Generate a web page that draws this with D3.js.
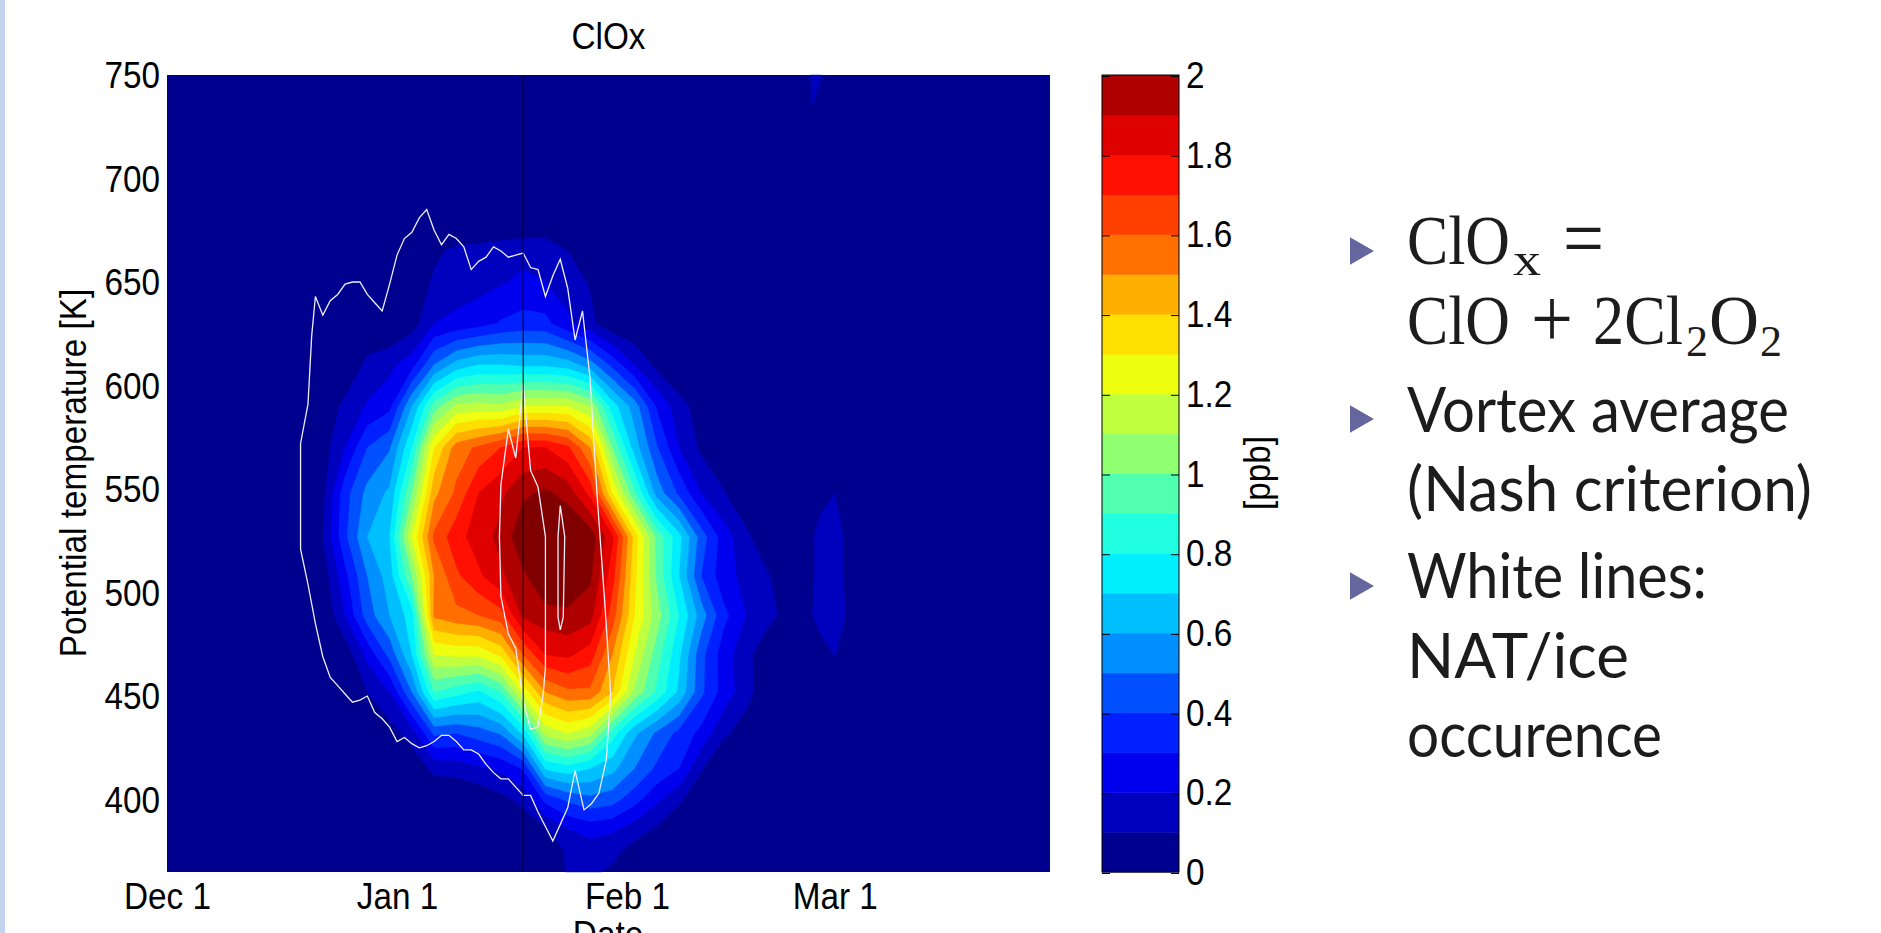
<!DOCTYPE html>
<html lang="en">
<head>
    <meta charset="UTF-8">
    <title>ClOx</title>
    <script src="https://d3js.org/d3.v7.min.js"></script>
    <style>
        html, body { margin: 0; padding: 0; background: #fff; overflow: hidden; }
        svg { display: block; }
        text { font-family: "Liberation Sans", Arial, sans-serif; fill: #000; }
        .axis text { font-size: 36px; }
        .slide { font-family: Lato, "Open Sans", sans-serif; font-size: 61px; fill: #1c1c1c; }
        .math { font-family: "Liberation Serif", serif; font-size: 62px; fill: #1c1c1c; }
    </style>
</head>
<body>
    <svg id="chart" width="1881" height="933"></svg>

    <script>
        // days since Dec 1 (columns of the field)
        const days = [0, 18, 21, 24, 27, 30, 33, 36, 39, 42, 45, 48, 51, 54, 57, 60, 63, 66, 69, 72, 75, 78, 81, 84, 86, 87, 88, 90, 92, 94, 119];
        // potential temperature (rows of the field), top to bottom
        const thetas = [750, 735, 720, 680, 665, 650, 630, 610, 590, 570, 548, 527, 508, 489, 470, 452, 432, 415, 400, 385, 375, 365];

        // ClOx [ppb]
        const clox = [
            [0, 0, 0, 0, 0, 0, 0, 0, 0, 0, 0, 0, 0, 0, 0, 0, 0, 0, 0, 0, 0, 0, 0, 0, 0, .14, .11, 0, 0, 0, 0],
            [0, 0, 0, 0, 0, 0, 0, 0, 0, 0, 0, 0, 0, 0, 0, 0, 0, 0, 0, 0, 0, 0, 0, 0, 0, .1, .07, 0, 0, 0, 0],
            [0, 0, 0, 0, 0, 0, 0, 0, 0, 0, 0, 0, 0, 0, 0, 0, 0, 0, 0, 0, 0, 0, 0, 0, 0, 0, 0, 0, 0, 0, 0],
            [0, 0, 0, 0, 0, 0, 0, 0, 0, 0, 0, 0, 0, 0, 0, 0, 0, 0, 0, 0, 0, 0, 0, 0, 0, 0, 0, 0, 0, 0, 0],
            [0, 0, 0, 0, 0, 0, 0, .08, .12, .13, .15, .17, .17, .1, .05, 0, 0, 0, 0, 0, 0, 0, 0, 0, 0, 0, 0, 0, 0, 0, 0],
            [0, 0, 0, 0, 0, 0, .03, .115, .14, .16, .19, .22, .2, .15, .09, 0, 0, 0, 0, 0, 0, 0, 0, 0, 0, 0, 0, 0, 0, 0, 0],
            [0, 0, 0, 0, 0, 0, .05, .2, .23, .26, .31, .34, .33, .22, .13, .02, 0, 0, 0, 0, 0, 0, 0, 0, 0, 0, 0, 0, 0, 0, 0],
            [0, 0, 0, 0, .13, .17, .26, .5, .64, .7, .7, .68, .68, .65, .55, .37, .2, .07, 0, 0, 0, 0, 0, 0, 0, 0, 0, 0, 0, 0, 0],
            [0, 0, .02, .13, .21, .27, .6, .95, 1.12, 1.14, 1.12, 1.2, 1.2, 1.2, 1.1, .75, .55, .29, .14, .05, 0, 0, 0, 0, 0, 0, 0, 0, 0, 0, 0],
            [0, 0, .05, .2, .4, .49, .8, 1.3, 1.55, 1.62, 1.7, 1.8, 1.8, 1.72, 1.5, 1, .65, .41, .2, .08, 0, 0, 0, 0, 0, 0, 0, 0, 0, 0, 0],
            [0, 0, .07, .36, .53, .62, 1, 1.47, 1.62, 1.8, 1.88, 1.98, 2.02, 1.96, 1.77, 1.3, .92, .56, .38, .2, .11, 0, 0, 0, 0, 0, .07, .1, 0, 0, 0],
            [0, 0, .1, .38, .6, .7, 1.2, 1.62, 1.76, 1.85, 1.93, 2.08, 2.12, 2.12, 2.06, 1.82, 1.36, .97, .73, .45, .25, .13, 0, 0, 0, .09, .13, .14, .07, 0, 0],
            [0, 0, .04, .27, .5, .65, 1, 1.5, 1.68, 1.78, 1.88, 1.98, 2.1, 2.08, 2.02, 1.74, 1.33, .98, .7, .4, .24, .17, .11, 0, 0, .09, .13, .14, .07, 0, 0],
            [0, 0, 0, .2, .45, .6, .75, 1.52, 1.57, 1.6, 1.66, 1.92, 1.96, 1.98, 1.94, 1.65, 1.3, 1.05, .8, .55, .33, .2, .13, .06, 0, .1, .14, .15, .08, 0, 0],
            [0, 0, 0, .03, .23, .43, .7, 1.2, 1.22, 1.22, 1.32, 1.6, 1.8, 1.82, 1.75, 1.5, 1.2, .95, .72, .43, .25, .13, .03, 0, 0, 0, .05, .105, .03, 0, 0],
            [0, 0, 0, 0, .1, .2, .5, .9, .84, .78, .9, 1.23, 1.5, 1.58, 1.58, 1.4, 1.08, .88, .68, .42, .26, .14, .03, 0, 0, 0, 0, 0, 0, 0, 0],
            [0, 0, 0, 0, 0, .05, .15, .42, .4, .45, .51, .72, 1.13, 1.2, 1.13, .85, .62, .48, .37, .27, .12, .05, 0, 0, 0, 0, 0, 0, 0, 0, 0],
            [0, 0, 0, 0, 0, 0, .02, .13, .14, .18, .22, .31, .71, .76, .7, .63, .5, .38, .3, .11, 0, 0, 0, 0, 0, 0, 0, 0, 0, 0, 0],
            [0, 0, 0, 0, 0, 0, 0, 0, 0, .02, .07, .13, .33, .42, .47, .44, .34, .22, .12, .02, 0, 0, 0, 0, 0, 0, 0, 0, 0, 0, 0],
            [0, 0, 0, 0, 0, 0, 0, 0, 0, 0, 0, .02, .08, .19, .23, .21, .14, .08, 0, 0, 0, 0, 0, 0, 0, 0, 0, 0, 0, 0, 0],
            [0, 0, 0, 0, 0, 0, 0, 0, 0, 0, 0, 0, 0, .12, .15, .13, .06, 0, 0, 0, 0, 0, 0, 0, 0, 0, 0, 0, 0, 0, 0],
            [0, 0, 0, 0, 0, 0, 0, 0, 0, 0, 0, 0, 0, .11, .12, .08, 0, 0, 0, 0, 0, 0, 0, 0, 0, 0, 0, 0, 0, 0, 0]
        ];

        // lower edge of each colour band
        const levels = [0, .1, .2, .3, .4, .5, .6, .7, .8, .9, 1, 1.1, 1.2, 1.3, 1.4, 1.5, 1.6, 1.7, 1.8, 1.9, 2];
        const bandColors = ["#00008f", "#0000bf", "#0000ef", "#0020ff", "#0050ff", "#0090ff", "#00bfff", "#00efff", "#20ffdf", "#50ffaf",
            "#90ff70", "#bfff40", "#efff10", "#ffdf00", "#ffaf00", "#ff7000", "#ff4000", "#ff1000", "#df0000", "#af0000", "#800000"];

        // NAT/ice occurrence lines as [day, theta]
        const outerLine = [[18, 527], [18, 570], [18, 572], [19, 591], [19.5, 624], [20, 643], [21, 634], [22, 641], [23, 644], [24, 649], [25, 650], [26, 650], [27, 644], [28, 640], [29, 636], [30, 649], [31, 663], [32, 671], [33, 674], [34, 681], [35, 685], [36, 675], [37, 668], [38, 673], [39, 671], [40, 667], [41, 656], [42, 660], [43, 662], [44, 667], [45, 665], [46, 662], [47, 663], [48, 664], [49, 657], [50, 656], [51, 643], [52, 653], [53, 661], [54, 647], [55, 622], [56, 636], [57, 604], [58, 545], [59, 495], [59.8, 451], [59.2, 419], [58.2, 403], [57.2, 398], [56.2, 395], [55, 414], [54, 396], [53, 388], [52, 380], [51, 387], [50, 394], [49, 402], [48, 402], [47, 406], [46, 410], [45, 410], [44, 413], [43, 417], [42, 422], [41, 424], [40, 424], [39, 428], [38, 431], [37, 431], [36, 428], [35, 426], [34, 425], [33, 427], [32, 430], [31, 428], [30, 435], [29, 439], [28, 442], [27, 450], [26, 448], [25, 447], [24, 451], [23, 455], [22, 459], [21, 469], [20, 485], [19, 504], [18, 521], [18, 527]];
        const innerLine = [[45, 552], [46, 579], [47, 565], [48, 601], [49, 559], [50, 551], [51, 527], [51, 464], [50.7, 451], [50, 435], [49, 434], [48, 448], [47, 473], [46, 480], [45, 498], [44.8, 527], [45, 552]];
        const coreLine = [[53, 542], [53.6, 527], [53.4, 488], [53, 482], [52.7, 488], [52.7, 527], [53, 542]];
        const markerDay = 48;

        const thetaTicks = [400, 450, 500, 550, 600, 650, 700, 750];
        const dateTicks = [0, 31, 62, 90];
        const dateLabels = ["Dec 1", "Jan 1", "Feb 1", "Mar 1"];
        const colorTicks = [0, .2, .4, .6, .8, 1, 1.2, 1.4, 1.6, 1.8, 2];

        const svg = d3.select("#chart");

        // slide edge
        svg.append("rect").attr("x", 0).attr("y", 0).attr("width", 5).attr("height", 933).attr("fill", "#c3d2ef");

        const x = d3.scaleLinear().domain([0, 119]).range([167, 1050]);
        const y = d3.scaleLinear().domain([365, 750]).range([872, 75]);

        // grid index -> data, the grid is not evenly spaced
        const dayOf = d3.scaleLinear().domain(d3.range(days.length)).range(days).clamp(true);
        const thetaOf = d3.scaleLinear().domain(d3.range(thetas.length)).range(thetas).clamp(true);

        svg.append("rect")
            .attr("x", x(0)).attr("y", y(750))
            .attr("width", x(119) - x(0)).attr("height", y(365) - y(750))
            .attr("fill", bandColors[0]);

        const contours = d3.contours()
            .size([days.length, thetas.length])
            .thresholds(levels.slice(1))(clox.flat());

        const path = d3.geoPath(d3.geoTransform({
            point(px, py) {
                this.stream.point(x(dayOf(px - .5)), y(thetaOf(py - .5)));
            }
        }));

        svg.append("g").selectAll("path")
            .data(contours)
            .enter()
            .append("path")
            .attr("d", path)
            .attr("fill", (d, i) => bandColors[i + 1])
            .attr("stroke", (d, i) => bandColors[i + 1])
            .attr("stroke-width", .4);

        // white lines
        const line = d3.line().x(d => x(d[0])).y(d => y(d[1]));
        svg.append("g").selectAll("path")
            .data([outerLine, innerLine, coreLine])
            .enter()
            .append("path")
            .attr("d", line)
            .attr("fill", "none")
            .attr("stroke", "#eeeef8")
            .attr("stroke-width", 1.3);

        svg.append("line")
            .attr("x1", x(markerDay)).attr("x2", x(markerDay))
            .attr("y1", y(750)).attr("y2", y(365))
            .attr("stroke", "#000").attr("stroke-width", 1);

        // the original labels are a little narrow for their height
        function squeeze(sel) {
            sel.each(function() {
                this.setAttribute("textLength", this.getComputedTextLength() * .925);
                this.setAttribute("lengthAdjust", "spacingAndGlyphs");
            });
        }

        // axes
        const yAxis = svg.append("g").attr("class", "axis")
            .attr("transform", `translate(${x(0)},1)`)
            .call(d3.axisLeft(y).tickValues(thetaTicks).tickSize(0).tickPadding(7));
        yAxis.select(".domain").remove();

        const xAxis = svg.append("g").attr("class", "axis")
            .attr("transform", `translate(0,${y(365)})`)
            .call(d3.axisBottom(x).tickValues(dateTicks).tickFormat((d, i) => dateLabels[i]).tickSize(0).tickPadding(11));
        xAxis.select(".domain").remove();

        const labels = svg.append("g").attr("class", "axis");
        labels.append("text").attr("x", 608.5).attr("y", 49).attr("text-anchor", "middle").text("ClOx");
        labels.append("text").attr("x", 608).attr("y", 947).attr("text-anchor", "middle").text("Date");
        labels.append("text")
            .attr("transform", "translate(86,473) rotate(-90)")
            .attr("text-anchor", "middle")
            .text("Potential temperature [K]");

        // colour bar
        const cb = d3.scaleLinear().domain([0, 2]).range([872, 75]);
        svg.append("g").selectAll("rect")
            .data(levels.slice(0, -1))
            .enter()
            .append("rect")
            .attr("x", 1102)
            .attr("width", 77)
            .attr("y", d => cb(d + .1))
            .attr("height", d => cb(d) - cb(d + .1) + .5)
            .attr("fill", (d, i) => bandColors[i]);
        svg.append("rect").attr("x", 1102).attr("y", 75).attr("width", 77).attr("height", 797)
            .attr("fill", "none").attr("stroke", "#000").attr("stroke-width", 1);

        const cbRight = svg.append("g").attr("class", "axis")
            .attr("transform", "translate(1179,1)")
            .call(d3.axisRight(cb).tickValues(colorTicks).tickFormat(d3.format("")).tickSizeInner(-8).tickSizeOuter(0).tickPadding(16));
        cbRight.select(".domain").remove();
        cbRight.selectAll("text").attr("x", 7);
        const cbLeft = svg.append("g")
            .attr("transform", "translate(1102,1)")
            .call(d3.axisLeft(cb).tickValues(colorTicks).tickFormat("").tickSizeInner(-8).tickSizeOuter(0));
        cbLeft.select(".domain").remove();

        labels.append("text")
            .attr("transform", "translate(1270,473) rotate(-90)")
            .attr("text-anchor", "middle")
            .text("[ppb]");

        squeeze(svg.selectAll(".axis text"));

        // slide text
        const bulletY = [251, 419, 586];
        const bullet = d3.symbol().type(d3.symbolTriangle).size(330);
        svg.append("g").selectAll("path")
            .data(bulletY)
            .enter()
            .append("path")
            .attr("d", bullet)
            .attr("transform", d => `translate(1358,${d}) rotate(90)`)
            .attr("fill", "#66669e");

        const slideLines = [
            ["Vortex average", 431.5, 382],
            ["(Nash criterion)", 511, 405],
            ["White lines:", 598, 300],
            ["NAT/ice", 678, 222],
            ["occurence", 757, 255]
        ];
        svg.append("g").selectAll("text")
            .data(slideLines)
            .enter()
            .append("text")
            .attr("class", "slide")
            .attr("x", 1407)
            .attr("y", d => d[1])
            .attr("textLength", d => d[2])
            .attr("lengthAdjust", "spacingAndGlyphs")
            .text(d => d[0]);

        function math(txt, px, py, size, len) {
            svg.append("text").attr("class", "math").attr("x", px).attr("y", py)
                .style("font-size", size + "px")
                .attr("textLength", len).attr("lengthAdjust", "spacingAndGlyphs")
                .text(txt);
        }
        math("ClO", 1407, 264, 70, 103);
        math("x", 1513, 275, 46, 28);
        math("=", 1563, 267, 84, 41);
        math("ClO", 1407, 344, 70, 103);
        math("+", 1531, 347, 84, 42);
        math("2Cl", 1593, 344, 70, 90);
        math("2", 1686, 356, 44, 22);
        math("O", 1709, 344, 70, 50);
        math("2", 1760, 356, 44, 22);
    </script>
</body>
</html>
